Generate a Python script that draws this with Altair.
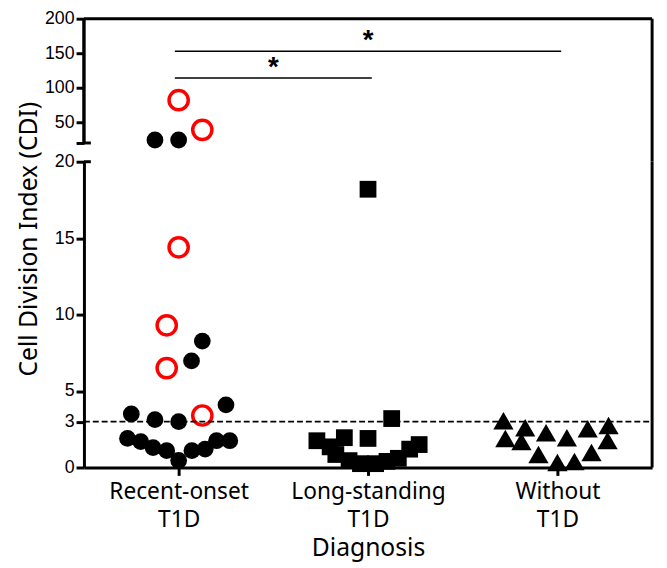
import altair as alt
import pandas as pd

# ---------------- data ----------------
groups = ["Recent-onset\nT1D", "Long-standing\nT1D", "Without\nT1D"]

# Recent-onset T1D: filled black circles
ro_black_cdi = [24.3, 24.3, 8.27, 6.97, 4.1, 3.5, 3.13, 3.0, 1.9, 1.69, 1.3, 1.1, 0.46, 1.1, 1.2, 1.75, 1.75]
ro_black_jit = [-0.125, 0.0, 0.125, 0.068, 0.25, -0.25, -0.125, 0.0, -0.27, -0.2, -0.135, -0.063, 0.0, 0.07, 0.14, 0.2, 0.27]
# Recent-onset T1D: open red circles
ro_red_cdi = [82, 39, 14.4, 9.3, 6.5, 3.4]
ro_red_jit = [0.0, 0.125, 0.0, -0.063, -0.063, 0.125]
# Long-standing T1D: squares
ls_cdi = [18.2, 3.2, 1.9, 1.95, 1.75, 1.35, 0.85, 0.45, 0.25, 0.25, 0.4, 0.6, 1.2, 1.5]
ls_jit = [0.0, 0.125, 0.0, -0.125, -0.27, -0.2, -0.17, -0.1, -0.04, 0.04, 0.1, 0.16, 0.22, 0.27]
# Without T1D: triangles
wo_cdi = [3.06, 1.9, 2.6, 1.7, 2.28, 0.85, 0.33, 1.95, 0.39, 2.54, 0.98, 2.74, 1.76]
wo_jit = [-0.285, -0.275, -0.17, -0.19, -0.06, -0.1, 0.0, 0.05, 0.09, 0.16, 0.18, 0.27, 0.265]

threshold = 3
break_value = 20
top_value = 200
upper_ticks = [20, 50, 100, 150, 200]
lower_ticks = [0, 3, 5, 10, 15, 20]

sig_x1 = [0.98, 0.98]
sig_x2 = [3.02, 2.02]
sig_y = [153, 114]
sig_label = ["*", "*"]

# ---------------- tables ----------------
rows = []
for series, idx, vals, jit in [
    ("black", 1, ro_black_cdi, ro_black_jit),
    ("red", 1, ro_red_cdi, ro_red_jit),
    ("square", 2, ls_cdi, ls_jit),
    ("triangle", 3, wo_cdi, wo_jit),
]:
    for v, j in zip(vals, jit):
        rows.append({"series": series, "x": idx + j, "cdi": v})
df = pd.DataFrame(rows)
sig_df = pd.DataFrame({"x1": sig_x1, "x2": sig_x2, "cdi": sig_y, "label": sig_label,
                       "xm": [(a + b) / 2 for a, b in zip(sig_x1, sig_x2)]})

X_MIN, X_MAX = 0.5, 3.5
W = 576
H_TOP = 145          # panel height incl. the gap of the axis break
H_TOP_RANGE = 126    # pixel span of 20..200
H_BOT = 310

units_per_px = (top_value - break_value) / H_TOP_RANGE
top_domain = [break_value - (H_TOP - H_TOP_RANGE) * units_per_px, top_value]

TXT_FONT = "Noto Sans"
NUM_FONT = "Liberation Sans"

label_expr = ""
for i, g in enumerate(groups):
    parts = g.split("\n")
    arr = "[" + ",".join(f"'{p}'" for p in parts) + "]"
    if i < len(groups) - 1:
        label_expr += f"datum.value == {i + 1} ? {arr} : "
    else:
        label_expr += arr

xscale = alt.Scale(domain=[X_MIN, X_MAX], nice=False, zero=False)
top_yscale = alt.Scale(domain=top_domain, nice=False, zero=False)
bot_yscale = alt.Scale(domain=[0, break_value], nice=False)

top_axis = alt.Axis(values=upper_ticks, title=None, domain=False, labelOverlap=False,
                    labelExpr=f"datum.value == {break_value} ? '' : datum.label")
bot_axis = alt.Axis(values=lower_ticks, title="Cell Division Index (CDI)", labelOverlap=False,
                    titleFont=TXT_FONT, titleFontSize=25, titleFontWeight="normal",
                    titleAngle=-90, titleX=-56, titleY=78, titleAlign="center",
                    titleBaseline="middle")
bot_xaxis = alt.Axis(values=[1, 2, 3], labelExpr=label_expr, title="Diagnosis",
                     labelFont=TXT_FONT, labelFontSize=23, labelLineHeight=29,
                     labelPadding=5, titleFont=TXT_FONT, titleFontSize=25,
                     titleFontWeight="normal", titlePadding=4, grid=False)

frame_df = pd.DataFrame({"xa": [X_MIN], "xb": [X_MAX], "ya": [break_value], "yb": [top_value],
                         "thr": [threshold]})


def point_layers(data_filter, xenc, yenc):
    base = alt.Chart(df).transform_filter(data_filter)
    black = base.transform_filter("datum.series == 'black'").mark_point(
        shape="circle", filled=True, size=289, color="black", opacity=1).encode(x=xenc, y=yenc)
    sq = base.transform_filter("datum.series == 'square'").mark_point(
        shape="square", filled=True, size=289, color="black", opacity=1).encode(x=xenc, y=yenc)
    tri = base.transform_filter("datum.series == 'triangle'").mark_point(
        shape="triangle-up", filled=True, size=420, color="black", opacity=1).encode(x=xenc, y=yenc)
    red = base.transform_filter("datum.series == 'red'").mark_point(
        shape="circle", filled=False, size=380, color="#ff0000", strokeWidth=3.5, opacity=1).encode(x=xenc, y=yenc)
    return [black, sq, tri, red]


def tx(field):
    return alt.X(f"{field}:Q", scale=xscale, axis=None)


def ty(field):
    return alt.Y(f"{field}:Q", scale=top_yscale, axis=top_axis)


def bx(field):
    return alt.X(f"{field}:Q", scale=xscale, axis=bot_xaxis)


def by(field):
    return alt.Y(f"{field}:Q", scale=bot_yscale, axis=bot_axis)


# ---------------- upper panel ----------------
top_pts = point_layers(f"datum.cdi >= {break_value}", tx("x"), ty("cdi"))

top_rules = alt.Chart(sig_df).mark_rule(color="black", strokeWidth=1.5).encode(
    x=tx("x1"), x2="x2:Q", y=ty("cdi"))
top_stars = alt.Chart(sig_df).mark_text(
    font=NUM_FONT, fontSize=28, fontWeight="bold", baseline="alphabetic", dy=-2, color="black").encode(
    x=tx("xm"), y=ty("cdi"), text="label:N")

frame_top = alt.Chart(frame_df).mark_rule(color="black", strokeWidth=3).encode(
    x=tx("xa"), x2="xb:Q", y=ty("yb"))
frame_left = alt.Chart(frame_df).mark_rule(color="black", strokeWidth=3.5).encode(
    x=tx("xa"), y=ty("ya"), y2="yb:Q")
frame_right_top = alt.Chart(frame_df).mark_rule(color="black", strokeWidth=3).encode(
    x=tx("xb"), y=alt.value(0), y2=alt.value(H_TOP))
top_cap = alt.Chart(frame_df).mark_rule(color="black", strokeWidth=3).encode(
    x=alt.value(0), x2=alt.value(7), y=ty("ya"))

top = alt.layer(*top_pts, top_rules, top_stars, frame_top, frame_left, frame_right_top, top_cap
                ).properties(width=W, height=H_TOP)

# ---------------- lower panel ----------------
bot_pts = point_layers(f"datum.cdi < {break_value}", bx("x"), by("cdi"))
dash = alt.Chart(frame_df).mark_rule(color="black", strokeWidth=2, strokeDash=[6, 3]).encode(
    x=bx("xa"), x2="xb:Q", y=by("thr"))
frame_right_bot = alt.Chart(frame_df).mark_rule(color="black", strokeWidth=3).encode(
    x=bx("xb"), y=alt.value(0), y2=alt.value(H_BOT))
bot_cap = alt.Chart(frame_df).mark_rule(color="black", strokeWidth=3).encode(
    x=alt.value(0), x2=alt.value(7), y=by("ya"))

bottom = alt.layer(*bot_pts, dash, frame_right_bot, bot_cap).properties(width=W, height=H_BOT)

chart = alt.vconcat(top, bottom, spacing=0, bounds="flush").properties(
    padding={"left": 8, "top": -2, "right": 5, "bottom": 0}
).configure_view(stroke=None).configure_axis(
    domainColor="black", domainWidth=3, tickColor="black", tickWidth=3, tickSize=8,
    labelColor="black", titleColor="black", labelFont=NUM_FONT, labelFontSize=18,
    labelPadding=2, grid=False
)

chart.save("out.html", embed_options={"renderer": "svg", "actions": False})
